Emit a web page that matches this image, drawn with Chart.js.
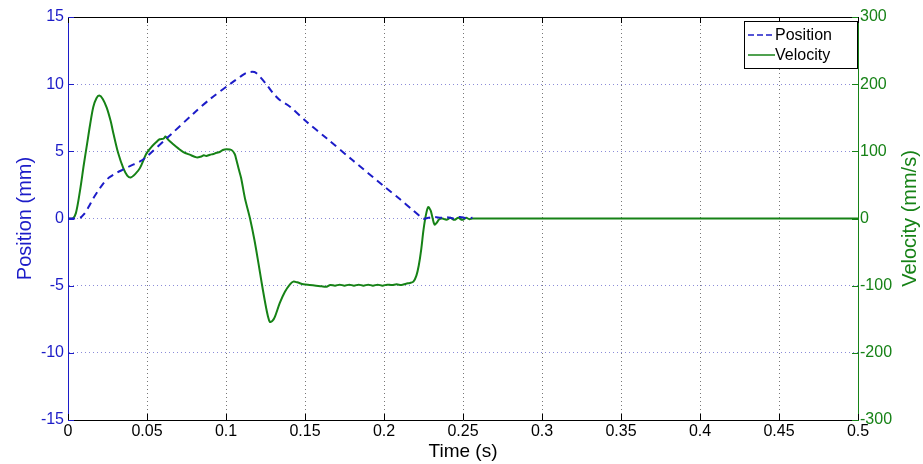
<!DOCTYPE html>
<html>
<head>
<meta charset="utf-8">
<script src="https://cdn.jsdelivr.net/npm/chart.js@4.4.1/dist/chart.umd.min.js"></script>
<style>
  html, body { margin: 0; padding: 0; background: #fff; }
  #wrap { width: 923px; height: 464px; }
</style>
</head>
<body>
<div id="wrap"><canvas id="myChart" width="923" height="464"></canvas></div>
<script>
// Tick labels
const timeTicks = [0, 0.05, 0.1, 0.15, 0.2, 0.25, 0.3, 0.35, 0.4, 0.45, 0.5];
const posTicks = [-15, -10, -5, 0, 5, 10, 15];
const velTicks = [-300, -200, -100, 0, 100, 200, 300];

// Position (mm)
const posTime = [0, 0.0076, 0.01, 0.013, 0.016, 0.019, 0.0223, 0.026, 0.0308, 0.035, 0.0392, 0.0456,
  0.0497, 0.0646, 0.0793, 0.09, 0.1036, 0.109, 0.113, 0.118, 0.1215, 0.1258, 0.13, 0.134, 0.1405,
  0.151, 0.1637, 0.18, 0.2, 0.21, 0.218, 0.225, 0.228, 0.232, 0.236, 0.24, 0.244, 0.248, 0.252, 0.256];
const posValues = [0, 0.05, 0.3, 0.85, 1.5, 2.05, 2.6, 3.05, 3.4, 3.65, 3.9, 4.25,
  4.6, 6.2, 7.8, 8.9, 10.1, 10.55, 10.85, 10.9, 10.55, 9.95, 9.3, 8.82, 8.32,
  7.2, 5.97, 4.35, 2.4, 1.45, 0.65, 0.0, 0.05, 0.12, 0.05, 0.1, 0.0, 0.12, 0.02, 0.05];

// Velocity (mm/s)
const velTime = [0, 0.003, 0.005, 0.0075, 0.01, 0.012, 0.014, 0.016, 0.018, 0.0198, 0.022, 0.0245,
  0.027, 0.0287, 0.0318, 0.035, 0.0375, 0.0397, 0.0425, 0.0455, 0.0497, 0.053, 0.056, 0.058, 0.0605,
  0.0617, 0.0635, 0.0664, 0.07, 0.073, 0.077, 0.0814, 0.084, 0.086, 0.0875, 0.0899, 0.092, 0.094,
  0.096, 0.098, 0.1004, 0.1035, 0.1055, 0.1066, 0.108, 0.1096, 0.112, 0.1152, 0.118, 0.1205, 0.1226,
  0.125, 0.1265, 0.1278, 0.1295, 0.131, 0.134, 0.1373, 0.1405, 0.1426, 0.145, 0.149, 0.153, 0.157,
  0.1605, 0.1636, 0.166, 0.169, 0.172, 0.175, 0.178, 0.181, 0.184, 0.187, 0.19, 0.193, 0.196, 0.199,
  0.202, 0.205, 0.208, 0.211, 0.214, 0.2165, 0.2186, 0.2205, 0.222, 0.2235, 0.225, 0.2265, 0.228,
  0.2295, 0.2305, 0.232, 0.2335, 0.235, 0.237, 0.2395, 0.242, 0.2445, 0.247, 0.2495, 0.252, 0.254,
  0.256, 0.5];
const velValues = [0, 0, 8, 40, 80, 110, 140, 166, 179, 183, 178, 165,
  145, 127, 97, 75, 64, 61, 66, 75, 97, 107, 114, 118, 119,
  122, 117, 111, 104, 99, 95, 91, 92, 94, 93, 95, 96, 98,
  99, 102, 103, 102, 96, 87, 74, 60, 30, 0, -32, -66, -96,
  -128, -145, -154, -152, -146, -126, -109, -98, -94, -95, -98, -99, -100,
  -101, -101.5, -99, -100, -98.5, -100, -98.5, -100, -98.5, -100, -98.5, -100, -98.5, -100,
  -98.5, -99, -98, -99, -97, -96, -94, -85, -70, -47, -17, 5, 17,
  12, 3, -9, -6, -1, 0, -2, 1, -2, 1, -2, 1, -1,
  0, 0];

const blue = '#1c1cc8';
const green = '#168216';
const font = "Arial, 'Liberation Sans', sans-serif";

const toPoints = (xs, ys) => xs.map((x, i) => ({ x: x, y: ys[i] }));

// Inward tick marks, top border, right title and boxed legend, MATLAB style
const matlabFrame = {
    id: 'matlabFrame',
    afterDraw(chart) {
        const c = chart.ctx;
        const a = chart.chartArea;
        const sx = chart.scales.x, sl = chart.scales.yLeft, sr = chart.scales.yRight;
        c.save();
        c.lineWidth = 1;
        c.strokeStyle = '#000';
        c.beginPath();
        c.moveTo(a.left, a.top + 0.5);
        c.lineTo(a.right, a.top + 0.5);
        timeTicks.forEach(t => {
            const px = Math.round(sx.getPixelForValue(t)) + 0.5;
            c.moveTo(px, a.bottom); c.lineTo(px, a.bottom - 6);
            c.moveTo(px, a.top); c.lineTo(px, a.top + 6);
        });
        c.stroke();
        c.strokeStyle = blue;
        c.beginPath();
        posTicks.forEach(v => {
            const py = Math.round(sl.getPixelForValue(v)) + 0.5;
            c.moveTo(a.left, py); c.lineTo(a.left + 6, py);
        });
        c.stroke();
        c.strokeStyle = green;
        c.beginPath();
        velTicks.forEach(v => {
            const py = Math.round(sr.getPixelForValue(v)) + 0.5;
            c.moveTo(a.right, py); c.lineTo(a.right - 6, py);
        });
        c.stroke();

        // right axis title, reading bottom to top like the left one
        c.save();
        c.translate(sr.right - 13, (a.top + a.bottom) / 2);
        c.rotate(-Math.PI / 2);
        c.fillStyle = green;
        c.font = '20px ' + font;
        c.textAlign = 'center';
        c.textBaseline = 'middle';
        c.fillText('Velocity (mm/s)', 0, 0);
        c.restore();

        // legend
        const bw = 113, bh = 47;
        const bx = a.right - bw - 1, by = a.top + 4;
        c.fillStyle = '#fff';
        c.fillRect(bx, by, bw, bh);
        c.strokeStyle = '#000';
        c.strokeRect(bx + 0.5, by + 0.5, bw, bh);
        c.font = '16px ' + font;
        c.textBaseline = 'middle';
        chart.data.datasets.forEach((ds, i) => {
            const ly = by + 14 + i * 20;
            c.strokeStyle = ds.borderColor;
            c.lineWidth = 1.5;
            c.setLineDash(ds.borderDash ? [6, 3] : []);
            c.beginPath();
            c.moveTo(bx + 4, ly); c.lineTo(bx + 31, ly);
            c.stroke();
            c.setLineDash([]);
            c.fillStyle = '#000';
            c.fillText(ds.label, bx + 31, ly + 1);
        });
        c.restore();
    }
};

const ctx = document.getElementById('myChart').getContext('2d');

let myChart = new Chart(ctx, {
    type: 'line',
    data: {
        datasets: [{
            label: 'Position',
            data: toPoints(posTime, posValues),
            yAxisID: 'yLeft',
            borderColor: blue,
            borderWidth: 2,
            borderDash: [7, 5],
            pointRadius: 0,
            tension: 0.3,
            fill: false
        }, {
            label: 'Velocity',
            data: toPoints(velTime, velValues),
            yAxisID: 'yRight',
            borderColor: green,
            borderWidth: 2,
            pointRadius: 0,
            tension: 0.3,
            fill: false
        }]
    },
    options: {
        responsive: false,
        animation: false,
        layout: { padding: { top: 17, left: 0, right: 0, bottom: 0 } },
        plugins: {
            legend: { display: false },
            tooltip: { enabled: false }
        },
        scales: {
            x: {
                type: 'linear',
                min: 0,
                max: 0.5,
                afterBuildTicks: s => { s.ticks = timeTicks.map(v => ({ value: v })); },
                afterFit: s => { s.height = 44; },
                ticks: {
                    color: '#000',
                    font: { family: font, size: 16 },
                    padding: 2,
                    maxRotation: 0,
                    callback: v => String(v)
                },
                grid: { color: '#777', drawTicks: false, lineWidth: 1 },
                border: { display: true, color: '#000', dash: [1, 3] },
                title: {
                    display: true,
                    text: 'Time (s)',
                    color: '#000',
                    font: { family: font, size: 19 },
                    padding: { top: 0, bottom: 1 }
                }
            },
            yLeft: {
                type: 'linear',
                position: 'left',
                min: -15,
                max: 15,
                afterBuildTicks: s => { s.ticks = posTicks.map(v => ({ value: v })); },
                afterFit: s => { s.width = 68; },
                ticks: {
                    color: blue,
                    font: { family: font, size: 16 },
                    padding: 4
                },
                grid: { color: '#8c8cd8', drawTicks: false },
                border: { display: true, color: blue, dash: [1, 3] },
                title: {
                    display: true,
                    text: 'Position (mm)',
                    color: blue,
                    font: { family: font, size: 20 },
                    padding: { top: 13, bottom: 0 }
                }
            },
            yRight: {
                type: 'linear',
                position: 'right',
                min: -300,
                max: 300,
                afterBuildTicks: s => { s.ticks = velTicks.map(v => ({ value: v })); },
                afterFit: s => { s.width = 65; },
                ticks: {
                    color: green,
                    font: { family: font, size: 16 },
                    padding: 2
                },
                grid: { display: false, drawTicks: false },
                border: { display: true, color: green }
            }
        }
    },
    plugins: [matlabFrame]
});
</script>
</body>
</html>
